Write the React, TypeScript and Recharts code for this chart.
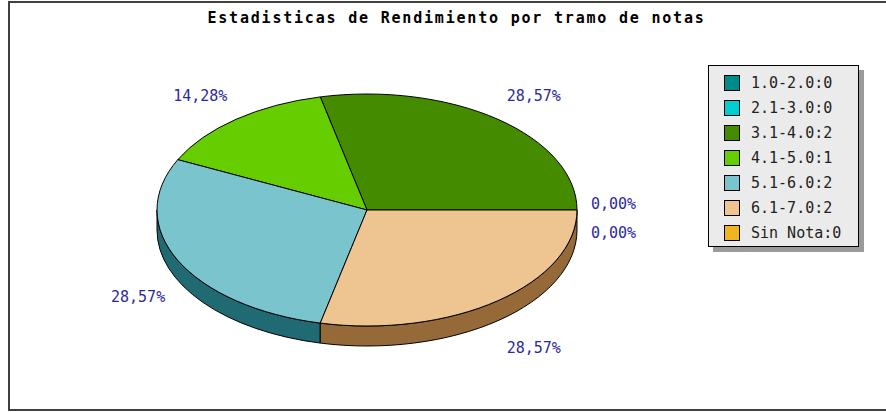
import React from 'react';
import { PieChart, Pie, Legend } from 'recharts';

const categories = ['1.0-2.0', '2.1-3.0', '3.1-4.0', '4.1-5.0', '5.1-6.0', '6.1-7.0', 'Sin Nota'];
const counts = [0, 0, 2, 1, 2, 2, 0];
const topColors = ['#008b8b', '#00ced1', '#458b00', '#66cd00', '#7ac5cd', '#eec591', '#eeb422'];
const sideColors = ['#004a4a', '#006e70', '#244a00', '#366d00', '#206a73', '#966a38', '#7a5c12'];

const title = 'Estadisticas de Rendimiento por tramo de notas';

// pie geometry
const CX = 367;
const CY = 210;
const RX = 210;
const RATIO = 116 / 210;
const DEPTH = 20;
const RAD = Math.PI / 180;
const MONO = '"DejaVu Sans Mono", "Liberation Mono", monospace';

const total = counts.reduce((a, b) => a + b, 0);

const topData = categories.map((c, i) => ({ name: `${c}:${counts[i]}`, value: counts[i], fill: topColors[i] }));
const sideData = categories.map((c, i) => ({ name: c, value: counts[i], fill: sideColors[i] }));

const pt = (cx: number, cy: number, r: number, a: number) => [
  cx + r * Math.cos(a * RAD),
  cy - r * RATIO * Math.sin(a * RAD),
];

const TopSlice = (props: any) => {
  const { cx, cy, outerRadius, fill } = props;
  const s = Math.min(props.startAngle, props.endAngle);
  const e = Math.max(props.startAngle, props.endAngle);
  if (e - s < 1e-6) return <g />;
  const [x0, y0] = pt(cx, cy, outerRadius, s);
  const [x1, y1] = pt(cx, cy, outerRadius, e);
  const large = e - s > 180 ? 1 : 0;
  const d = `M${cx},${cy} L${x0},${y0} A${outerRadius},${outerRadius * RATIO} 0 ${large} 0 ${x1},${y1} Z`;
  return <path d={d} fill={fill} stroke="#000" strokeWidth={1} />;
};

// only the front half (180..360) shows its side wall
const SideSlice = (props: any) => {
  const { cx, cy, outerRadius, fill } = props;
  const s = Math.max(Math.min(props.startAngle, props.endAngle), 180);
  const e = Math.min(Math.max(props.startAngle, props.endAngle), 360);
  if (e - s < 1e-6) return <g />;
  const ry = outerRadius * RATIO;
  const [x0, y0] = pt(cx, cy, outerRadius, s);
  const [x1, y1] = pt(cx, cy, outerRadius, e);
  const d = `M${x0},${y0} A${outerRadius},${ry} 0 0 0 ${x1},${y1} L${x1},${y1 + DEPTH} A${outerRadius},${ry} 0 0 1 ${x0},${y0 + DEPTH} Z`;
  return <path d={d} fill={fill} stroke="#000" strokeWidth={1} />;
};

const fmtPct = (v: number) => {
  const p = Math.floor((v / total) * 10000 + 1e-6) / 100;
  return p.toFixed(2).replace('.', ',') + '%';
};

const renderLabel = (props: any) => {
  const { cx, cy, midAngle, outerRadius, value, index } = props;
  // two empty slices at the same angle share one label spot
  if (value === 0 && index > 0 && counts[index - 1] === 0) return <g />;
  const a = midAngle;
  const lower = a >= 180;
  const cos = Math.cos(a * RAD);
  const sin = Math.sin(a * RAD);
  const x = cx + (outerRadius + 14) * cos;
  let y;
  if (lower) y = cy + (outerRadius * RATIO + 31) * Math.abs(sin) + DEPTH + 8;
  else y = cy - (outerRadius * RATIO + 22) * sin - 1;
  return (
    <text x={x} y={y} textAnchor={cos >= -1e-6 ? 'start' : 'end'} fill="#2b2b9b" fontFamily={MONO} fontSize={15}>
      {fmtPct(value)}
    </text>
  );
};

const LegendBox = (props: any) => {
  const items = (props.payload || []).filter((p: any) => p.type !== 'none');
  return (
    <div
      style={{
        background: '#ebebeb',
        border: '1px solid #000',
        boxShadow: '5px 5px 0 #9a9a9a',
        padding: '4px 0 1px 15px',
        width: 134,
        fontFamily: MONO,
        fontSize: 15,
        color: '#222',
      }}
    >
      {items.map((p: any, i: number) => (
        <div key={i} style={{ display: 'flex', alignItems: 'center', height: 25 }}>
          <span style={{ width: 14, height: 14, background: p.color, border: '1px solid #000', marginRight: 11 }} />
          <span>{p.value}</span>
        </div>
      ))}
    </div>
  );
};

export default function App() {
  return (
    <div style={{ position: 'absolute', left: 0, top: 0, width: 886, height: 412, overflow: 'hidden', background: '#fff' }}>
      <div
        style={{
          position: 'absolute',
          left: 8,
          top: 1,
          width: 900,
          height: 406,
          borderLeft: '2px solid #404040',
          borderTop: '2px solid #404040',
          borderBottom: '2px solid #404040',
        }}
      />
      <div
        style={{
          position: 'absolute',
          left: 0,
          top: 9,
          width: 913,
          textAlign: 'center',
          fontFamily: MONO,
          fontWeight: 'bold',
          fontSize: 15,
          lineHeight: '18px',
          letterSpacing: 1.8,
          color: '#000',
        }}
      >
        {title}
      </div>
      <div style={{ position: 'absolute', left: 0, top: 0 }}>
        <PieChart width={886} height={412} margin={{ top: 0, right: 0, bottom: 0, left: 0 }}>
          <Pie
            data={sideData}
            dataKey="value"
            nameKey="name"
            cx={CX}
            cy={CY}
            outerRadius={RX}
            startAngle={0}
            endAngle={360}
            legendType="none"
            shape={SideSlice}
            isAnimationActive={false}
          />
          <Pie
            data={topData}
            dataKey="value"
            nameKey="name"
            cx={CX}
            cy={CY}
            outerRadius={RX}
            startAngle={0}
            endAngle={360}
            shape={TopSlice}
            label={renderLabel}
            labelLine={false}
            isAnimationActive={false}
          />
          <Legend
            layout="vertical"
            align="right"
            verticalAlign="top"
            content={<LegendBox />}
            wrapperStyle={{ left: 708, top: 65, right: 'auto', width: 'auto' }}
          />
        </PieChart>
      </div>
    </div>
  );
}
